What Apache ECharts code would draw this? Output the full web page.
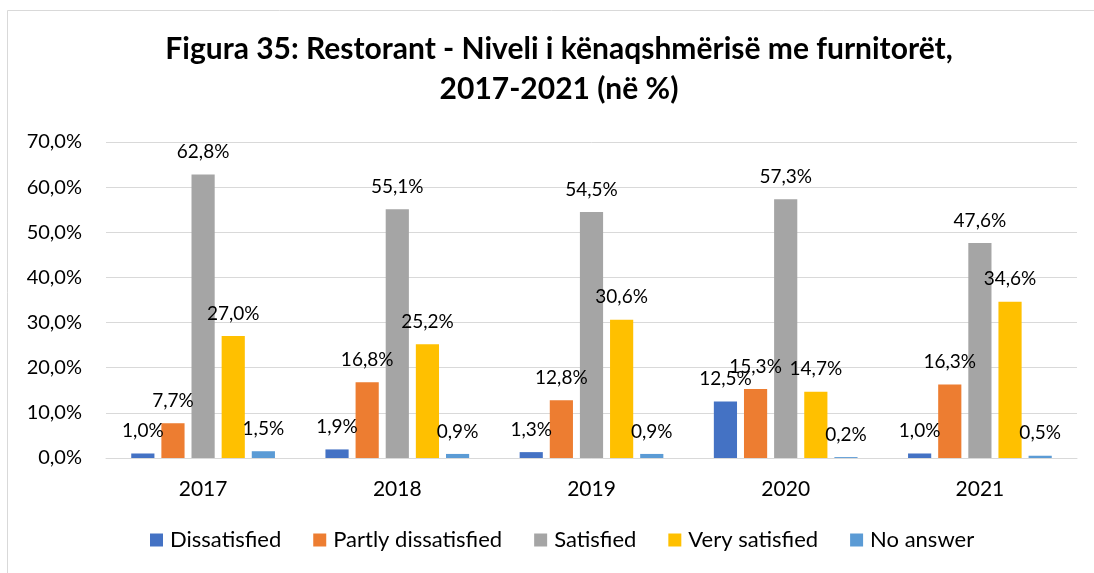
<!DOCTYPE html>
<html>
<head>
<meta charset="utf-8">
<title>Restorant - Niveli i kënaqshmërisë me furnitorët</title>
<script src="https://cdn.jsdelivr.net/npm/echarts@6/dist/echarts.min.js"></script>
<style>
  html, body { margin: 0; padding: 0; background: #fff; }
  #chart { width: 1094px; height: 573px; }
</style>
</head>
<body>
<div id="chart"></div>
<script>
// Survey years and answer groups
const years = ['2017', '2018', '2019', '2020', '2021'];
const seriesNames = ['Dissatisfied', 'Partly dissatisfied', 'Satisfied', 'Very satisfied', 'No answer'];

// Share of answers per year (%)
const dissatisfied = [1.0, 1.9, 1.3, 12.5, 1.0];
const partlyDissatisfied = [7.7, 16.8, 12.8, 15.3, 16.3];
const satisfied = [62.8, 55.1, 54.5, 57.3, 47.6];
const verySatisfied = [27.0, 25.2, 30.6, 14.7, 34.6];
const noAnswer = [1.5, 0.9, 0.9, 0.2, 0.5];

const colors = ['#4472C4', '#ED7D31', '#A5A5A5', '#FFC000', '#5B9BD5'];
const values = [dissatisfied, partlyDissatisfied, satisfied, verySatisfied, noAnswer];

const FONT = 'Lato, "Open Sans", sans-serif';
const pct = v => v.toFixed(1).replace('.', ',') + '%';

const chart = echarts.init(document.getElementById('chart'), null, { renderer: 'canvas' });

chart.setOption({
  animation: false,
  backgroundColor: '#ffffff',
  textStyle: { fontFamily: FONT },
  graphic: [{
    type: 'rect',
    shape: { x: 7.5, y: 10.5, width: 1100, height: 600 },
    style: { fill: 'none', stroke: '#d9d9d9', lineWidth: 1 },
    silent: true
  }],
  title: {
    text: 'Figura 35: Restorant - Niveli i kënaqshmërisë me furnitorët,\n2017-2021 (në %)',
    left: 554,
    textAlign: 'center',
    top: 24,
    textStyle: {
      fontFamily: FONT,
      fontSize: 30,
      fontWeight: 'bold',
      color: '#000',
      lineHeight: 40
    }
  },
  legend: {
    data: seriesNames,
    bottom: 17,
    left: 145,
    itemWidth: 13,
    itemHeight: 13,
    itemGap: 32,
    icon: 'rect',
    textStyle: { fontFamily: FONT, fontSize: 22, color: '#000', padding: [0, 0, 0, 2] }
  },
  grid: { left: 106, right: 17, top: 142, bottom: 115, containLabel: false },
  xAxis: {
    type: 'category',
    data: years,
    axisLine: { lineStyle: { color: '#d9d9d9', width: 1 } },
    axisTick: { show: false },
    axisLabel: { fontFamily: FONT, fontSize: 21, color: '#000', margin: 21 }
  },
  yAxis: {
    type: 'value',
    min: 0,
    max: 70,
    interval: 10,
    axisLine: { show: false },
    axisTick: { show: false },
    splitLine: { lineStyle: { color: '#d9d9d9', width: 1 } },
    axisLabel: {
      fontFamily: FONT, fontSize: 20, color: '#000', margin: 24,
      formatter: v => pct(v)
    }
  },
  series: seriesNames.map((name, i) => ({
    name,
    type: 'bar',
    data: values[i],
    barGap: '30%',
    barCategoryGap: '26%',
    itemStyle: { color: colors[i] },
    label: {
      show: true,
      position: 'top',
      distance: 13,
      fontFamily: FONT,
      fontSize: 19,
      color: '#000',
      formatter: p => pct(p.value)
    }
  }))
});
</script>
</body>
</html>
